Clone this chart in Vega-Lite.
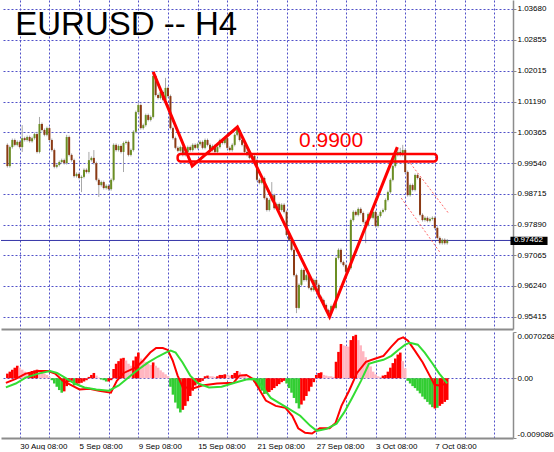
{
"$schema":"https://vega.github.io/schema/vega-lite/v6.json",
"padding":0,"spacing":2,"background":"white",
"config":{"view":{"stroke":null},"font":"Liberation Sans","axis":{"labelFont":"Liberation Sans","labelFontSize":8,"labelColor":"#000000","title":null}},
"datasets":{
"bars":[
{"i":-5,"o":1.0003,"h":1.0007,"l":0.9942,"c":0.9946,"m":0.0007,"k":"up"},
{"i":-4,"o":0.9946,"h":1.0001,"l":0.9942,"c":0.9997,"m":0.0010,"k":"up"},
{"i":-3,"o":0.9997,"h":1.0020,"l":0.9993,"c":1.0016,"m":0.0013,"k":"up"},
{"i":-2,"o":1.0016,"h":1.0020,"l":0.9999,"c":1.0003,"m":0.0016,"k":"up"},
{"i":-1,"o":1.0003,"h":1.0015,"l":0.9999,"c":1.0011,"m":0.0019,"k":"up"},
{"i":0,"o":1.0011,"h":1.0015,"l":0.9993,"c":0.9997,"m":0.0016,"k":"dp"},
{"i":1,"o":0.9997,"h":1.0056,"l":0.9984,"c":1.0021,"m":0.0013,"k":"dp"},
{"i":2,"o":1.0021,"h":1.0025,"l":1.0012,"c":1.0016,"m":0.0010,"k":"dp"},
{"i":3,"o":1.0016,"h":1.0028,"l":1.0012,"c":1.0024,"m":0.0008,"k":"dp"},
{"i":4,"o":1.0024,"h":1.0028,"l":1.0009,"c":1.0013,"m":0.0009,"k":"up"},
{"i":5,"o":1.0013,"h":1.0025,"l":1.0009,"c":1.0021,"m":0.0011,"k":"up"},
{"i":6,"o":1.0021,"h":1.0036,"l":1.0017,"c":1.0032,"m":0.0012,"k":"up"},
{"i":7,"o":1.0032,"h":1.0038,"l":0.9980,"c":0.9984,"m":0.0013,"k":"up"},
{"i":8,"o":0.9984,"h":1.0078,"l":0.9980,"c":1.0059,"m":0.0011,"k":"dp"},
{"i":9,"o":1.0059,"h":1.0063,"l":1.0039,"c":1.0043,"m":0.0009,"k":"dp"},
{"i":10,"o":1.0043,"h":1.0047,"l":1.0026,"c":1.0030,"m":0.0007,"k":"dp"},
{"i":11,"o":1.0030,"h":1.0052,"l":1.0026,"c":1.0048,"m":0.0005,"k":"dp"},
{"i":12,"o":1.0048,"h":1.0052,"l":1.0012,"c":1.0016,"m":0.0002,"k":"dp"},
{"i":13,"o":1.0016,"h":1.0020,"l":0.9985,"c":0.9989,"m":-0.0003,"k":"dn"},
{"i":14,"o":0.9989,"h":0.9993,"l":0.9940,"c":0.9944,"m":-0.0008,"k":"dn"},
{"i":15,"o":0.9944,"h":0.9953,"l":0.9940,"c":0.9949,"m":-0.0013,"k":"dn"},
{"i":16,"o":0.9949,"h":0.9961,"l":0.9945,"c":0.9957,"m":-0.0018,"k":"dn"},
{"i":17,"o":0.9957,"h":0.9966,"l":0.9953,"c":0.9962,"m":-0.0022,"k":"dn"},
{"i":18,"o":0.9962,"h":0.9966,"l":0.9950,"c":0.9954,"m":-0.0020,"k":"up"},
{"i":19,"o":0.9954,"h":1.0030,"l":0.9950,"c":1.0024,"m":-0.0012,"k":"up"},
{"i":20,"o":1.0024,"h":1.0028,"l":0.9972,"c":0.9976,"m":-0.0006,"k":"up"},
{"i":21,"o":0.9976,"h":0.9980,"l":0.9958,"c":0.9962,"m":-0.0004,"k":"up"},
{"i":22,"o":0.9962,"h":0.9966,"l":0.9915,"c":0.9919,"m":-0.0011,"k":"dn"},
{"i":23,"o":0.9919,"h":0.9929,"l":0.9915,"c":0.9925,"m":-0.0009,"k":"up"},
{"i":24,"o":0.9925,"h":0.9929,"l":0.9910,"c":0.9914,"m":-0.0008,"k":"up"},
{"i":25,"o":0.9914,"h":0.9921,"l":0.9876,"c":0.9917,"m":-0.0007,"k":"up"},
{"i":26,"o":0.9917,"h":0.9940,"l":0.9913,"c":0.9936,"m":-0.0005,"k":"up"},
{"i":27,"o":0.9936,"h":0.9940,"l":0.9926,"c":0.9930,"m":-0.0003,"k":"up"},
{"i":28,"o":0.9930,"h":0.9984,"l":0.9926,"c":0.9962,"m":0.0002,"k":"up"},
{"i":29,"o":0.9962,"h":0.9972,"l":0.9958,"c":0.9968,"m":0.0005,"k":"up"},
{"i":30,"o":0.9968,"h":0.9989,"l":0.9950,"c":0.9954,"m":0.0008,"k":"up"},
{"i":31,"o":0.9954,"h":0.9958,"l":0.9905,"c":0.9909,"m":0.0004,"k":"dp"},
{"i":32,"o":0.9909,"h":0.9913,"l":0.9863,"c":0.9895,"m":0.0001,"k":"dp"},
{"i":33,"o":0.9895,"h":0.9907,"l":0.9891,"c":0.9903,"m":-0.0002,"k":"dn"},
{"i":34,"o":0.9903,"h":0.9907,"l":0.9883,"c":0.9887,"m":-0.0003,"k":"dn"},
{"i":35,"o":0.9887,"h":0.9897,"l":0.9883,"c":0.9893,"m":-0.0005,"k":"dn"},
{"i":36,"o":0.9893,"h":0.9897,"l":0.9880,"c":0.9884,"m":-0.0005,"k":"up"},
{"i":37,"o":0.9884,"h":0.9913,"l":0.9880,"c":0.9909,"m":-0.0003,"k":"up"},
{"i":38,"o":0.9909,"h":1.0007,"l":0.9905,"c":1.0003,"m":0.0014,"k":"up"},
{"i":39,"o":1.0003,"h":1.0007,"l":0.9985,"c":0.9989,"m":0.0022,"k":"up"},
{"i":40,"o":0.9989,"h":1.0004,"l":0.9985,"c":1.0000,"m":0.0026,"k":"up"},
{"i":41,"o":1.0000,"h":1.0004,"l":0.9980,"c":0.9984,"m":0.0030,"k":"up"},
{"i":42,"o":0.9984,"h":1.0012,"l":0.9930,"c":1.0008,"m":0.0031,"k":"up"},
{"i":43,"o":1.0008,"h":1.0015,"l":1.0004,"c":1.0011,"m":0.0027,"k":"dp"},
{"i":44,"o":1.0011,"h":1.0015,"l":0.9972,"c":0.9976,"m":0.0022,"k":"dp"},
{"i":45,"o":0.9976,"h":0.9993,"l":0.9972,"c":0.9989,"m":0.0019,"k":"dp"},
{"i":46,"o":0.9989,"h":1.0042,"l":0.9985,"c":1.0038,"m":0.0027,"k":"up"},
{"i":47,"o":1.0038,"h":1.0095,"l":1.0034,"c":1.0091,"m":0.0033,"k":"up"},
{"i":48,"o":1.0091,"h":1.0115,"l":1.0087,"c":1.0110,"m":0.0039,"k":"up"},
{"i":49,"o":1.0110,"h":1.0114,"l":1.0044,"c":1.0048,"m":0.0030,"k":"dp"},
{"i":50,"o":1.0048,"h":1.0060,"l":1.0044,"c":1.0056,"m":0.0027,"k":"dp"},
{"i":51,"o":1.0056,"h":1.0087,"l":1.0052,"c":1.0083,"m":0.0025,"k":"dp"},
{"i":52,"o":1.0083,"h":1.0087,"l":1.0066,"c":1.0070,"m":0.0022,"k":"dp"},
{"i":53,"o":1.0070,"h":1.0082,"l":1.0066,"c":1.0078,"m":0.0020,"k":"dp"},
{"i":54,"o":1.0078,"h":1.0199,"l":1.0074,"c":1.0188,"m":0.0024,"k":"up"},
{"i":55,"o":1.0188,"h":1.0192,"l":1.0133,"c":1.0137,"m":0.0019,"k":"dp"},
{"i":56,"o":1.0137,"h":1.0141,"l":1.0125,"c":1.0129,"m":0.0016,"k":"dp"},
{"i":57,"o":1.0129,"h":1.0149,"l":1.0125,"c":1.0145,"m":0.0012,"k":"dp"},
{"i":58,"o":1.0145,"h":1.0149,"l":1.0120,"c":1.0124,"m":0.0009,"k":"dp"},
{"i":59,"o":1.0124,"h":1.0183,"l":1.0120,"c":1.0156,"m":0.0006,"k":"dp"},
{"i":60,"o":1.0156,"h":1.0160,"l":1.0130,"c":1.0134,"m":0.0003,"k":"dp"},
{"i":61,"o":1.0134,"h":1.0138,"l":1.0044,"c":1.0048,"m":-0.0013,"k":"dn"},
{"i":62,"o":1.0048,"h":1.0052,"l":1.0017,"c":1.0021,"m":-0.0025,"k":"dn"},
{"i":63,"o":1.0021,"h":1.0025,"l":0.9991,"c":0.9995,"m":-0.0037,"k":"dn"},
{"i":64,"o":0.9995,"h":0.9999,"l":0.9983,"c":0.9987,"m":-0.0046,"k":"dn"},
{"i":65,"o":0.9987,"h":1.0001,"l":0.9983,"c":0.9997,"m":-0.0052,"k":"dn"},
{"i":66,"o":0.9997,"h":1.0001,"l":0.9972,"c":0.9976,"m":-0.0048,"k":"up"},
{"i":67,"o":0.9976,"h":0.9988,"l":0.9972,"c":0.9984,"m":-0.0042,"k":"up"},
{"i":68,"o":0.9984,"h":1.0001,"l":0.9980,"c":0.9997,"m":-0.0035,"k":"up"},
{"i":69,"o":0.9997,"h":1.0001,"l":0.9985,"c":0.9989,"m":-0.0027,"k":"up"},
{"i":70,"o":0.9989,"h":1.0007,"l":0.9985,"c":1.0003,"m":-0.0019,"k":"up"},
{"i":71,"o":1.0003,"h":1.0007,"l":0.9991,"c":0.9995,"m":-0.0011,"k":"up"},
{"i":72,"o":0.9995,"h":1.0009,"l":0.9991,"c":1.0005,"m":-0.0008,"k":"up"},
{"i":73,"o":1.0005,"h":1.0015,"l":1.0001,"c":1.0011,"m":-0.0006,"k":"up"},
{"i":74,"o":1.0011,"h":1.0015,"l":0.9991,"c":0.9995,"m":-0.0004,"k":"up"},
{"i":75,"o":0.9995,"h":1.0020,"l":0.9991,"c":1.0016,"m":0.0003,"k":"up"},
{"i":76,"o":1.0016,"h":1.0020,"l":0.9999,"c":1.0003,"m":0.0004,"k":"up"},
{"i":77,"o":1.0003,"h":1.0007,"l":0.9985,"c":0.9989,"m":0.0003,"k":"dp"},
{"i":78,"o":0.9989,"h":1.0004,"l":0.9985,"c":1.0000,"m":0.0003,"k":"dp"},
{"i":79,"o":1.0000,"h":1.0004,"l":0.9980,"c":0.9984,"m":0.0002,"k":"dp"},
{"i":80,"o":0.9984,"h":1.0001,"l":0.9980,"c":0.9997,"m":0.0003,"k":"up"},
{"i":81,"o":0.9997,"h":1.0020,"l":0.9993,"c":1.0016,"m":0.0005,"k":"up"},
{"i":82,"o":1.0016,"h":1.0020,"l":1.0004,"c":1.0008,"m":0.0005,"k":"up"},
{"i":83,"o":1.0008,"h":1.0025,"l":1.0004,"c":1.0021,"m":0.0006,"k":"up"},
{"i":84,"o":1.0021,"h":1.0025,"l":0.9991,"c":0.9995,"m":0.0005,"k":"dp"},
{"i":85,"o":0.9995,"h":0.9999,"l":0.9985,"c":0.9989,"m":0.0004,"k":"dp"},
{"i":86,"o":0.9989,"h":1.0007,"l":0.9985,"c":1.0003,"m":0.0005,"k":"up"},
{"i":87,"o":1.0003,"h":1.0034,"l":0.9999,"c":1.0030,"m":0.0008,"k":"up"},
{"i":88,"o":1.0030,"h":1.0051,"l":1.0026,"c":1.0043,"m":0.0011,"k":"up"},
{"i":89,"o":1.0043,"h":1.0047,"l":1.0012,"c":1.0016,"m":0.0009,"k":"dp"},
{"i":90,"o":1.0016,"h":1.0020,"l":0.9999,"c":1.0003,"m":0.0006,"k":"dp"},
{"i":91,"o":1.0003,"h":1.0007,"l":0.9980,"c":0.9984,"m":0.0004,"k":"dp"},
{"i":92,"o":0.9984,"h":0.9988,"l":0.9972,"c":0.9976,"m":0.0001,"k":"dp"},
{"i":93,"o":0.9976,"h":0.9980,"l":0.9964,"c":0.9968,"m":-0.0002,"k":"dn"},
{"i":94,"o":0.9968,"h":0.9977,"l":0.9964,"c":0.9973,"m":-0.0003,"k":"dn"},
{"i":95,"o":0.9973,"h":0.9977,"l":0.9958,"c":0.9962,"m":-0.0006,"k":"dn"},
{"i":96,"o":0.9962,"h":0.9966,"l":0.9905,"c":0.9909,"m":-0.0012,"k":"dn"},
{"i":97,"o":0.9909,"h":0.9913,"l":0.9897,"c":0.9901,"m":-0.0016,"k":"dn"},
{"i":98,"o":0.9901,"h":0.9918,"l":0.9897,"c":0.9914,"m":-0.0019,"k":"dn"},
{"i":99,"o":0.9914,"h":0.9918,"l":0.9856,"c":0.9860,"m":-0.0024,"k":"dn"},
{"i":100,"o":0.9860,"h":0.9864,"l":0.9824,"c":0.9828,"m":-0.0023,"k":"up"},
{"i":101,"o":0.9828,"h":0.9859,"l":0.9824,"c":0.9855,"m":-0.0021,"k":"up"},
{"i":102,"o":0.9855,"h":0.9903,"l":0.9851,"c":0.9868,"m":-0.0018,"k":"up"},
{"i":103,"o":0.9868,"h":0.9872,"l":0.9829,"c":0.9833,"m":-0.0015,"k":"up"},
{"i":104,"o":0.9833,"h":0.9848,"l":0.9829,"c":0.9844,"m":-0.0012,"k":"up"},
{"i":105,"o":0.9844,"h":0.9848,"l":0.9824,"c":0.9828,"m":-0.0009,"k":"up"},
{"i":106,"o":0.9828,"h":0.9846,"l":0.9824,"c":0.9842,"m":-0.0006,"k":"up"},
{"i":107,"o":0.9842,"h":0.9846,"l":0.9819,"c":0.9823,"m":-0.0004,"k":"up"},
{"i":108,"o":0.9823,"h":0.9827,"l":0.9757,"c":0.9761,"m":-0.0008,"k":"dn"},
{"i":109,"o":0.9761,"h":0.9765,"l":0.9744,"c":0.9748,"m":-0.0015,"k":"dn"},
{"i":110,"o":0.9748,"h":0.9752,"l":0.9717,"c":0.9721,"m":-0.0022,"k":"dn"},
{"i":111,"o":0.9721,"h":0.9725,"l":0.9649,"c":0.9653,"m":-0.0030,"k":"dn"},
{"i":112,"o":0.9653,"h":0.9657,"l":0.9551,"c":0.9565,"m":-0.0038,"k":"dn"},
{"i":113,"o":0.9565,"h":0.9631,"l":0.9561,"c":0.9627,"m":-0.0046,"k":"dn"},
{"i":114,"o":0.9627,"h":0.9671,"l":0.9623,"c":0.9667,"m":-0.0040,"k":"up"},
{"i":115,"o":0.9667,"h":0.9671,"l":0.9636,"c":0.9640,"m":-0.0034,"k":"up"},
{"i":116,"o":0.9640,"h":0.9657,"l":0.9636,"c":0.9653,"m":-0.0027,"k":"up"},
{"i":117,"o":0.9653,"h":0.9657,"l":0.9615,"c":0.9619,"m":-0.0020,"k":"up"},
{"i":118,"o":0.9619,"h":0.9623,"l":0.9609,"c":0.9613,"m":-0.0013,"k":"up"},
{"i":119,"o":0.9613,"h":0.9644,"l":0.9609,"c":0.9640,"m":-0.0006,"k":"up"},
{"i":120,"o":0.9640,"h":0.9644,"l":0.9623,"c":0.9627,"m":0.0005,"k":"up"},
{"i":121,"o":0.9627,"h":0.9631,"l":0.9590,"c":0.9594,"m":0.0008,"k":"up"},
{"i":122,"o":0.9594,"h":0.9598,"l":0.9582,"c":0.9586,"m":0.0009,"k":"up"},
{"i":123,"o":0.9586,"h":0.9590,"l":0.9569,"c":0.9573,"m":0.0005,"k":"dp"},
{"i":124,"o":0.9573,"h":0.9577,"l":0.9555,"c":0.9559,"m":0.0004,"k":"dp"},
{"i":125,"o":0.9559,"h":0.9563,"l":0.9538,"c":0.9549,"m":0.0003,"k":"dp"},
{"i":126,"o":0.9549,"h":0.9574,"l":0.9545,"c":0.9570,"m":0.0003,"k":"dp"},
{"i":127,"o":0.9570,"h":0.9574,"l":0.9561,"c":0.9565,"m":0.0002,"k":"dp"},
{"i":128,"o":0.9565,"h":0.9703,"l":0.9561,"c":0.9699,"m":0.0025,"k":"up"},
{"i":129,"o":0.9699,"h":0.9725,"l":0.9695,"c":0.9721,"m":0.0040,"k":"up"},
{"i":130,"o":0.9721,"h":0.9725,"l":0.9684,"c":0.9688,"m":0.0052,"k":"up"},
{"i":131,"o":0.9688,"h":0.9692,"l":0.9676,"c":0.9680,"m":0.0050,"k":"dp"},
{"i":132,"o":0.9680,"h":0.9684,"l":0.9658,"c":0.9662,"m":0.0049,"k":"dp"},
{"i":133,"o":0.9662,"h":0.9676,"l":0.9658,"c":0.9672,"m":0.0048,"k":"dp"},
{"i":134,"o":0.9672,"h":0.9805,"l":0.9668,"c":0.9801,"m":0.0058,"k":"up"},
{"i":135,"o":0.9801,"h":0.9827,"l":0.9797,"c":0.9823,"m":0.0064,"k":"up"},
{"i":136,"o":0.9823,"h":0.9827,"l":0.9811,"c":0.9815,"m":0.0066,"k":"up"},
{"i":137,"o":0.9815,"h":0.9835,"l":0.9811,"c":0.9831,"m":0.0058,"k":"dp"},
{"i":138,"o":0.9831,"h":0.9835,"l":0.9816,"c":0.9820,"m":0.0050,"k":"dp"},
{"i":139,"o":0.9820,"h":0.9824,"l":0.9792,"c":0.9796,"m":0.0041,"k":"dp"},
{"i":140,"o":0.9796,"h":0.9800,"l":0.9739,"c":0.9788,"m":0.0032,"k":"dp"},
{"i":141,"o":0.9788,"h":0.9821,"l":0.9784,"c":0.9817,"m":0.0027,"k":"dp"},
{"i":142,"o":0.9817,"h":0.9821,"l":0.9803,"c":0.9807,"m":0.0018,"k":"dp"},
{"i":143,"o":0.9807,"h":0.9827,"l":0.9803,"c":0.9823,"m":0.0010,"k":"dp"},
{"i":144,"o":0.9823,"h":0.9827,"l":0.9781,"c":0.9785,"m":0.0006,"k":"dp"},
{"i":145,"o":0.9785,"h":0.9816,"l":0.9781,"c":0.9812,"m":0.0003,"k":"dp"},
{"i":146,"o":0.9812,"h":0.9827,"l":0.9808,"c":0.9823,"m":0.0002,"k":"dp"},
{"i":147,"o":0.9823,"h":0.9832,"l":0.9819,"c":0.9828,"m":0.0004,"k":"up"},
{"i":148,"o":0.9828,"h":0.9859,"l":0.9824,"c":0.9855,"m":0.0005,"k":"up"},
{"i":149,"o":0.9855,"h":0.9880,"l":0.9851,"c":0.9876,"m":0.0010,"k":"up"},
{"i":150,"o":0.9876,"h":0.9913,"l":0.9872,"c":0.9909,"m":0.0016,"k":"up"},
{"i":151,"o":0.9909,"h":0.9950,"l":0.9905,"c":0.9946,"m":0.0023,"k":"up"},
{"i":152,"o":0.9946,"h":0.9980,"l":0.9942,"c":0.9976,"m":0.0030,"k":"up"},
{"i":153,"o":0.9976,"h":0.9996,"l":0.9972,"c":0.9984,"m":0.0036,"k":"up"},
{"i":154,"o":0.9984,"h":0.9995,"l":0.9972,"c":0.9976,"m":0.0039,"k":"up"},
{"i":155,"o":0.9976,"h":1.0003,"l":0.9972,"c":0.9989,"m":0.0026,"k":"dp"},
{"i":156,"o":0.9989,"h":0.9993,"l":0.9926,"c":0.9930,"m":0.0015,"k":"dp"},
{"i":157,"o":0.9930,"h":0.9934,"l":0.9864,"c":0.9868,"m":-0.0004,"k":"dn"},
{"i":158,"o":0.9868,"h":0.9899,"l":0.9864,"c":0.9895,"m":-0.0008,"k":"dn"},
{"i":159,"o":0.9895,"h":0.9899,"l":0.9878,"c":0.9882,"m":-0.0012,"k":"dn"},
{"i":160,"o":0.9882,"h":0.9926,"l":0.9878,"c":0.9922,"m":-0.0015,"k":"dn"},
{"i":161,"o":0.9922,"h":0.9926,"l":0.9910,"c":0.9914,"m":-0.0019,"k":"dn"},
{"i":162,"o":0.9914,"h":0.9918,"l":0.9811,"c":0.9815,"m":-0.0023,"k":"dn"},
{"i":163,"o":0.9815,"h":0.9819,"l":0.9797,"c":0.9801,"m":-0.0028,"k":"dn"},
{"i":164,"o":0.9801,"h":0.9811,"l":0.9797,"c":0.9807,"m":-0.0032,"k":"dn"},
{"i":165,"o":0.9807,"h":0.9811,"l":0.9795,"c":0.9799,"m":-0.0036,"k":"dn"},
{"i":166,"o":0.9799,"h":0.9808,"l":0.9795,"c":0.9804,"m":-0.0040,"k":"dn"},
{"i":167,"o":0.9804,"h":0.9811,"l":0.9800,"c":0.9807,"m":-0.0044,"k":"dn"},
{"i":168,"o":0.9807,"h":0.9811,"l":0.9776,"c":0.9780,"m":-0.0046,"k":"up"},
{"i":169,"o":0.9780,"h":0.9784,"l":0.9749,"c":0.9753,"m":-0.0045,"k":"dn"},
{"i":170,"o":0.9753,"h":0.9757,"l":0.9735,"c":0.9739,"m":-0.0042,"k":"up"},
{"i":171,"o":0.9739,"h":0.9752,"l":0.9735,"c":0.9748,"m":-0.0039,"k":"up"},
{"i":172,"o":0.9748,"h":0.9752,"l":0.9735,"c":0.9739,"m":-0.0036,"k":"up"},
{"i":173,"o":0.9739,"h":0.9750,"l":0.9735,"c":0.97462,"m":-0.0033,"k":"up"}
],
"macd":[{"i":-5.6,"v":-0.0007},{"i":-1.6,"v":-0.0001},{"i":2.4,"v":0.0007},{"i":7.5,"v":0.0011},{"i":11.5,"v":0.0011},{"i":14.3,"v":0.0007},{"i":17.5,"v":-0.0004},{"i":21,"v":-0.0011},{"i":24.2,"v":-0.0017},{"i":28.2,"v":-0.0016},{"i":32.1,"v":-0.0019},{"i":36.9,"v":-0.0022},{"i":39.3,"v":-0.0004},{"i":42.1,"v":0.0008},{"i":47.2,"v":0.0017},{"i":50,"v":0.0027},{"i":52.8,"v":0.0039},{"i":55.2,"v":0.0046},{"i":57.9,"v":0.0046},{"i":59.9,"v":0.0043},{"i":61.9,"v":0.0027},{"i":63.9,"v":0.0004},{"i":65.9,"v":-0.0013},{"i":69.8,"v":-0.0016},{"i":73.8,"v":-0.0011},{"i":79.8,"v":-0.0008},{"i":86.5,"v":-0.0007},{"i":88.9,"v":0.0004},{"i":91.7,"v":0.0005},{"i":94.4,"v":-0.0001},{"i":96.8,"v":-0.0016},{"i":99.6,"v":-0.0034},{"i":103.6,"v":-0.0042},{"i":107.5,"v":-0.0045},{"i":110.3,"v":-0.0057},{"i":112.7,"v":-0.0076},{"i":115.5,"v":-0.0083},{"i":118.3,"v":-0.0084},{"i":121.4,"v":-0.0076},{"i":125.4,"v":-0.0076},{"i":127.8,"v":-0.0068},{"i":130.2,"v":-0.0042},{"i":133.3,"v":-0.0019},{"i":136.5,"v":0.0008},{"i":140.1,"v":0.0025},{"i":144,"v":0.0030},{"i":147.2,"v":0.0034},{"i":150.4,"v":0.0048},{"i":153.2,"v":0.0059},{"i":155.2,"v":0.0062},{"i":157.1,"v":0.0057},{"i":159.9,"v":0.0042},{"i":163.1,"v":0.0024},{"i":165.9,"v":0.0004},{"i":167.9,"v":-0.0010},{"i":169.8,"v":-0.0011},{"i":173,"v":-0.0008}],
"sig":[{"i":-5.6,"v":-0.0014},{"i":-1.6,"v":-0.0008},{"i":2.4,"v":0.0001},{"i":7.5,"v":0.0007},{"i":12.3,"v":0.0011},{"i":15.1,"v":0.0008},{"i":18.3,"v":0.0001},{"i":22.2,"v":-0.0008},{"i":26.2,"v":-0.0014},{"i":31,"v":-0.0017},{"i":36.1,"v":-0.0019},{"i":40.1,"v":-0.0011},{"i":44,"v":0.0001},{"i":47.2,"v":0.0011},{"i":52,"v":0.0024},{"i":56,"v":0.0033},{"i":59.1,"v":0.0039},{"i":61.1,"v":0.0042},{"i":63.1,"v":0.0039},{"i":65.9,"v":0.0024},{"i":69,"v":0.0004},{"i":72.2,"v":-0.0008},{"i":76.6,"v":-0.0014},{"i":81.7,"v":-0.0013},{"i":87,"v":-0.0007},{"i":91.7,"v":-0.0002},{"i":94.8,"v":-0.0001},{"i":97.6,"v":-0.0010},{"i":101.6,"v":-0.0030},{"i":105.6,"v":-0.0039},{"i":108.3,"v":-0.0045},{"i":113.5,"v":-0.0057},{"i":117.5,"v":-0.0072},{"i":120.2,"v":-0.0080},{"i":124.2,"v":-0.0077},{"i":128.2,"v":-0.0069},{"i":131.3,"v":-0.0052},{"i":134.5,"v":-0.0030},{"i":138.1,"v":-0.0004},{"i":141.3,"v":0.0022},{"i":144,"v":0.0025},{"i":147.2,"v":0.0028},{"i":150.4,"v":0.0034},{"i":153.2,"v":0.0043},{"i":156,"v":0.0051},{"i":157.9,"v":0.0054},{"i":161.1,"v":0.0051},{"i":163.9,"v":0.0039},{"i":167.1,"v":0.0022},{"i":169.8,"v":0.0007},{"i":173,"v":-0.0008}]
},
"vconcat":[
{"width":512,"height":329,
"layer":[
{"data":{"name":"bars"},"mark":{"type":"rule","color":"#a8a8a8","strokeWidth":1},
"encoding":{
"x":{"field":"i","type":"quantitative","scale":{"domain":[-5.556,197.6],"nice":false,"zero":false},
"axis":{"values":[0,12,24,36,48,60,72,84,96,108,120,132,144,156,168,180,192],"tickCount":60,"grid":true,"gridColor":"#5050c8","gridDash":[2,2],"gridWidth":1,"labels":false,"ticks":false,"domain":true,"domainColor":"#8c8c8c","domainWidth":2,"title":null,"orient":"bottom"}},
"y":{"field":"l","type":"quantitative","scale":{"domain":[0.95084,1.03921],"nice":false,"zero":false},
"axis":{"orient":"right","values":[0.95415,0.9624,0.97065,0.9789,0.98715,0.9954,1.00365,1.0119,1.02015,1.02855,1.0368],"tickCount":60,"format":".5f","grid":true,"gridColor":"#5050c8","gridDash":[2,2],"domain":true,"domainColor":"#8c8c8c","domainWidth":1.5,"ticks":true,"tickSize":3,"tickColor":"#8c8c8c","labelPadding":1,"labelOverlap":false,"title":null}},
"y2":{"field":"h"}}},
{"data":{"values":[{"p":0.97462}]},"mark":{"type":"rule","color":"#3535a8","strokeWidth":1},
"encoding":{"y":{"field":"p","type":"quantitative","scale":{"domain":[0.95084,1.03921],"nice":false,"zero":false}}}},
{"data":{"name":"bars"},"mark":{"type":"bar","size":2},
"encoding":{
"x":{"field":"i","type":"quantitative","scale":{"domain":[-5.556,197.6],"nice":false,"zero":false}},
"y":{"field":"o","type":"quantitative","scale":{"domain":[0.95084,1.03921],"nice":false,"zero":false}},
"y2":{"field":"c"},
"color":{"condition":{"test":"datum.c >= datum.o","value":"#6b8e23"},"value":"#8b3a14"}}},
{"data":{"values":[{"i":54,"p":1.0199},{"i":69.8,"p":0.9946},{"i":88.1,"p":1.0051},{"i":125.4,"p":0.9541},{"i":152.8,"p":0.9997}]},
"mark":{"type":"line","color":"#ff0000","strokeWidth":3,"strokeJoin":"miter"},
"encoding":{
"x":{"field":"i","type":"quantitative","scale":{"domain":[-5.556,197.6],"nice":false,"zero":false}},
"y":{"field":"p","type":"quantitative","scale":{"domain":[0.95084,1.03921],"nice":false,"zero":false}}}},
{"data":{"values":[{"i":63.9,"i2":168.8,"p":0.99785,"p2":0.99583}]},
"mark":{"type":"rect","filled":false,"stroke":"#ff0000","strokeWidth":2.5,"cornerRadius":3},
"encoding":{
"x":{"field":"i","type":"quantitative","scale":{"domain":[-5.556,197.6],"nice":false,"zero":false}},
"x2":{"field":"i2"},
"y":{"field":"p","type":"quantitative","scale":{"domain":[0.95084,1.03921],"nice":false,"zero":false}},
"y2":{"field":"p2"}}},
{"data":{"values":[{"g":"a","i":157.1,"p":0.9962},{"g":"a","i":173.8,"p":0.9817},{"g":"b","i":154.4,"p":0.9860},{"g":"b","i":170.2,"p":0.9713}]},
"mark":{"type":"line","color":"#ff6a6a","strokeWidth":1,"strokeDash":[2,2]},
"encoding":{
"x":{"field":"i","type":"quantitative","scale":{"domain":[-5.556,197.6],"nice":false,"zero":false}},
"y":{"field":"p","type":"quantitative","scale":{"domain":[0.95084,1.03921],"nice":false,"zero":false}},
"detail":{"field":"g"}}},
{"data":{"values":[{"t":"0.9900","i":126.0,"p":0.99981}]},
"mark":{"type":"text","color":"#ff0000","fontSize":21,"font":"Liberation Sans","align":"center","baseline":"alphabetic"},
"encoding":{
"x":{"field":"i","type":"quantitative","scale":{"domain":[-5.556,197.6],"nice":false,"zero":false}},
"y":{"field":"p","type":"quantitative","scale":{"domain":[0.95084,1.03921],"nice":false,"zero":false}},
"text":{"field":"t"}}},
{"data":{"values":[{"t":"EURUSD -- H4","i":-1.8,"p":1.02981}]},
"mark":{"type":"text","color":"#000000","fontSize":33,"font":"Liberation Sans","align":"left","baseline":"alphabetic"},
"encoding":{
"x":{"field":"i","type":"quantitative","scale":{"domain":[-5.556,197.6],"nice":false,"zero":false}},
"y":{"field":"p","type":"quantitative","scale":{"domain":[0.95084,1.03921],"nice":false,"zero":false}},
"text":{"field":"t"}}},
{"data":{"values":[{"i":198.6,"i2":213.6,"p":0.97563,"p2":0.9734}]},
"mark":{"type":"rect","color":"#000000"},
"encoding":{
"x":{"field":"i","type":"quantitative","scale":{"domain":[-5.556,197.6],"nice":false,"zero":false}},
"x2":{"field":"i2"},
"y":{"field":"p","type":"quantitative","scale":{"domain":[0.95084,1.03921],"nice":false,"zero":false}},
"y2":{"field":"p2"}}},
{"data":{"values":[{"t":"0.97462","i":200.0,"p":0.97462}]},
"mark":{"type":"text","color":"#ffffff","fontSize":8,"font":"Liberation Sans","align":"left","baseline":"middle"},
"encoding":{
"x":{"field":"i","type":"quantitative","scale":{"domain":[-5.556,197.6],"nice":false,"zero":false}},
"y":{"field":"p","type":"quantitative","scale":{"domain":[0.95084,1.03921],"nice":false,"zero":false}},
"text":{"field":"t"}}}
]},
{"width":512,"height":106,
"layer":[
{"data":{"name":"bars"},"mark":{"type":"bar","size":2.6},
"encoding":{
"x":{"field":"i","type":"quantitative","scale":{"domain":[-5.556,197.6],"nice":false,"zero":false},
"axis":{"values":[0,12,24,36,48,60,72,84,96,108,120,132,144,156,168,180,192],"tickCount":60,"grid":true,"gridColor":"#5050c8","gridDash":[2,2],"ticks":false,"domain":true,"domainColor":"#8c8c8c","domainWidth":2,"title":null,"labelAlign":"left","labelFlush":false,"labelOverlap":false,"labelPadding":4,"labelBaseline":"top",
"labelExpr":"['30 Aug 08:00','','5 Sep 08:00','','9 Sep 08:00','','15 Sep 08:00','','21 Sep 08:00','','27 Sep 08:00','','3 Oct 08:00','','7 Oct 08:00','',''][round(datum.value/12)]"}},
"y":{"field":"m","type":"quantitative","scale":{"domain":[-0.0090863,0.0070268],"nice":false,"zero":false},
"axis":{"orient":"right","values":[-0.0090863,0,0.0070268],"tickCount":10,"labelExpr":"datum.value == 0 ? '0.00' : (datum.value > 0 ? '0.0070268' : '-0.0090863')","labelFlush":true,"labelOverlap":false,"grid":true,"gridColor":"#5050c8","gridDash":[2,2],"gridOpacity":{"condition":{"test":"datum.value === 0","value":1},"value":0},"domain":true,"domainColor":"#8c8c8c","domainWidth":1.5,"ticks":true,"tickSize":3,"tickColor":"#8c8c8c","labelPadding":1,"title":null}},
"y2":{"datum":0},
"color":{"field":"k","type":"nominal","scale":{"domain":["up","dp","dn"],"range":["#ff0000","#ffb6c1","#32cd32"]},"legend":null}}},
{"data":{"name":"macd"},"mark":{"type":"line","color":"#ff0000","strokeWidth":2,"clip":true},
"encoding":{
"x":{"field":"i","type":"quantitative","scale":{"domain":[-5.556,197.6],"nice":false,"zero":false}},
"y":{"field":"v","type":"quantitative","scale":{"domain":[-0.0090863,0.0070268],"nice":false,"zero":false}}}},
{"data":{"name":"sig"},"mark":{"type":"line","color":"#33dd33","strokeWidth":2,"clip":true},
"encoding":{
"x":{"field":"i","type":"quantitative","scale":{"domain":[-5.556,197.6],"nice":false,"zero":false}},
"y":{"field":"v","type":"quantitative","scale":{"domain":[-0.0090863,0.0070268],"nice":false,"zero":false}}}}
]}
]
}
